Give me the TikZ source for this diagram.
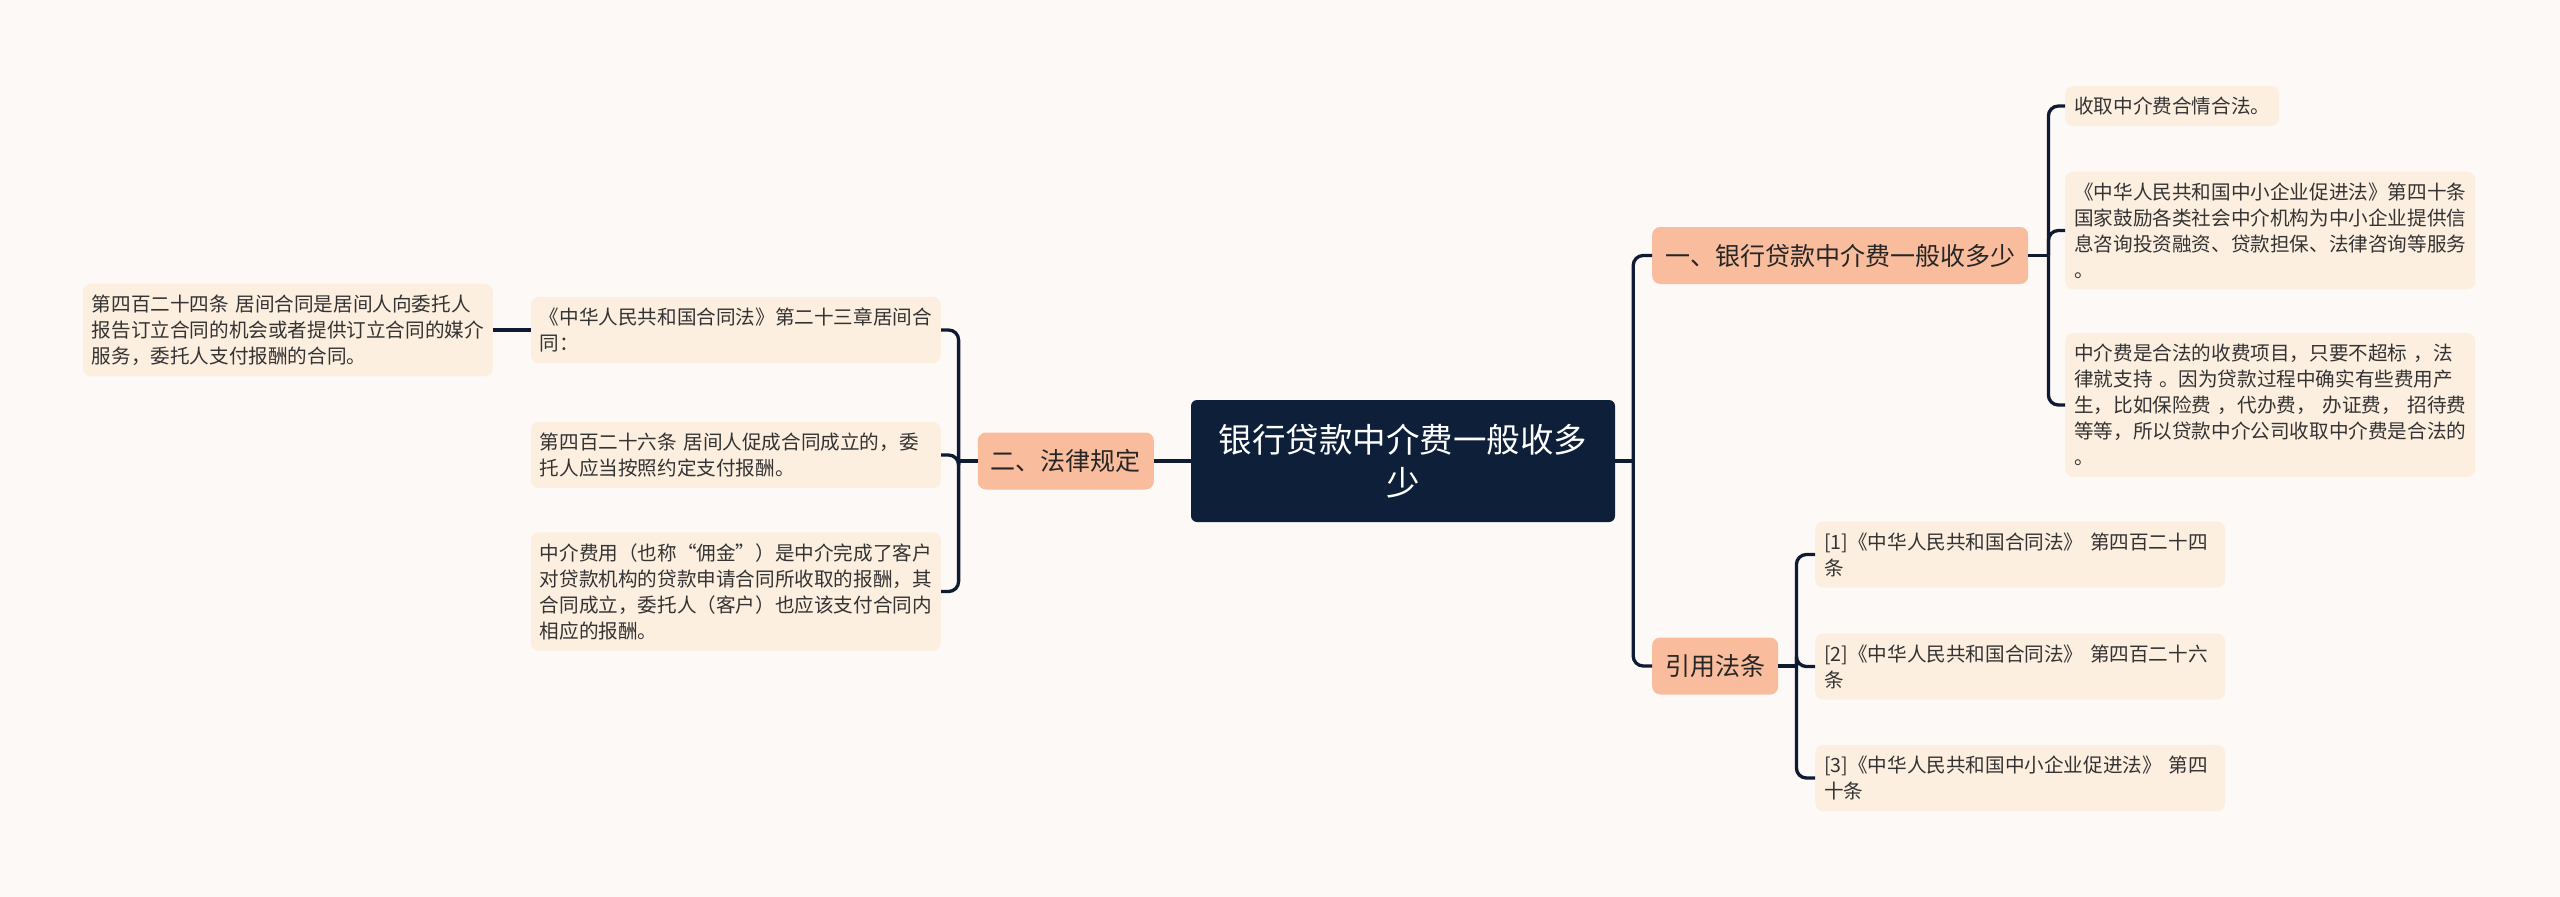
\documentclass[tikz,border=0pt]{standalone}
\usepackage{fontspec}
\usepackage{tikz}
\newfontfamily\cjk{Noto Sans CJK SC}
\definecolor{bgcol}{HTML}{FDF9F7}
\definecolor{leafcol}{HTML}{FDEFE0}
\definecolor{branchcol}{HTML}{F9BD9D}
\definecolor{rootcol}{HTML}{0E1F3A}
\definecolor{linkcol}{HTML}{0F1B33}
\definecolor{txtcol}{HTML}{333333}
\tikzset{
  rootbox/.style={fill=rootcol, rounded corners=6pt, text=white, align=center,
    minimum width=424pt, minimum height=122pt, inner sep=0pt,
    font=\cjk\fontsize{33.5pt}{43pt}\selectfont},
  branchbox/.style={fill=branchcol, rounded corners=8pt, text=black!85,
    inner xsep=13pt, inner ysep=0pt, minimum height=57pt,
    font=\cjk\fontsize{25pt}{30pt}\selectfont},
  leafbox/.style={fill=leafcol, rounded corners=8pt, text=txtcol, align=left,
    text width=392pt, inner xsep=9pt, inner ysep=11pt,
    font=\cjk\fontsize{19.6pt}{26pt}\selectfont},
  link/.style={draw=linkcol, line width=3.3pt, rounded corners=10pt}
}

\begin{document}
\begin{tikzpicture}[x=1pt, y=-1pt]
  \fill[bgcol] (0,0) rectangle (2560,897);
  \useasboundingbox (0,0) rectangle (2560,897);

  % centre
  \node[rootbox] (root) at (1403,461) {银行贷款中介费一般收多\\少};

  % branches
  \node[branchbox, anchor=west] (fee) at (1652,255.5) {一、银行贷款中介费一般收多少};
  \node[branchbox, anchor=west] (cite) at (1652,666) {引用法条};
  \node[branchbox, anchor=east] (law) at (1154,461) {二、法律规定};

  % right leaves
  \node[leafbox, anchor=west, text width=196pt] (feeA) at (2065,106) {收取中介费合情合法。};
  \node[leafbox, anchor=west] (feeB) at (2065,230.5) {《中华人民共和国中小企业促进法》第四十条\\国家鼓励各类社会中介机构为中小企业提供信\\息咨询投资融资、贷款担保、法律咨询等服务\\。};
  \node[leafbox, anchor=west] (feeC) at (2065,405) {中介费是合法的收费项目，只要不超标 ，法\\律就支持 。因为贷款过程中确实有些费用产\\生，比如保险费 ，代办费， 办证费， 招待费\\等等，所以贷款中介公司收取中介费是合法的\\。};

  \node[leafbox, anchor=west] (citeA) at (1815,554.5) {[1]《中华人民共和国合同法》 第四百二十四\\条};
  \node[leafbox, anchor=west] (citeB) at (1815,666.5) {[2]《中华人民共和国合同法》 第四百二十六\\条};
  \node[leafbox, anchor=west] (citeC) at (1815,778) {[3]《中华人民共和国中小企业促进法》 第四\\十条};

  % left leaves
  \node[leafbox, anchor=east] (lawA) at (941,330) {《中华人民共和国合同法》第二十三章居间合\\同：};
  \node[leafbox, anchor=east] (lawB) at (941,455) {第四百二十六条 居间人促成合同成立的，委\\托人应当按照约定支付报酬。};
  \node[leafbox, anchor=east] (lawC) at (941,591.5) {中介费用（也称“佣金”）是中介完成了客户\\对贷款机构的贷款申请合同所收取的报酬，其\\合同成立，委托人（客户）也应该支付合同内\\相应的报酬。};
  \node[leafbox, anchor=east] (lawAa) at (493,330) {第四百二十四条 居间合同是居间人向委托人\\报告订立合同的机会或者提供订立合同的媒介\\服务，委托人支付报酬的合同。};

  % connectors
  \path (root.east) ++(18,0) coordinate (rs);
  \path (law.west) ++(-19,0) coordinate (ls);
  \path (fee.east) ++(20,0) coordinate (fs);
  \path (cite.east) ++(18,0) coordinate (cs);

  \draw[link] (root.east) -- (rs);
  \draw[link] (root.west) -- (law.east);
  \draw[link] (law.west) -- (ls);
  \draw[link] (fee.east) -- (fs);
  \draw[link] (cite.east) -- (cs);
  \draw[link] (lawA.west) -- (lawAa.east);

  \foreach \s/\t in {rs/fee, rs/cite, fs/feeA, fs/feeB, fs/feeC, cs/citeA, cs/citeB, cs/citeC}
    \draw[link] (\s) |- (\t.west);
  \foreach \t in {lawA, lawB, lawC}
    \draw[link] (ls) |- (\t.east);
\end{tikzpicture}
\end{document}
